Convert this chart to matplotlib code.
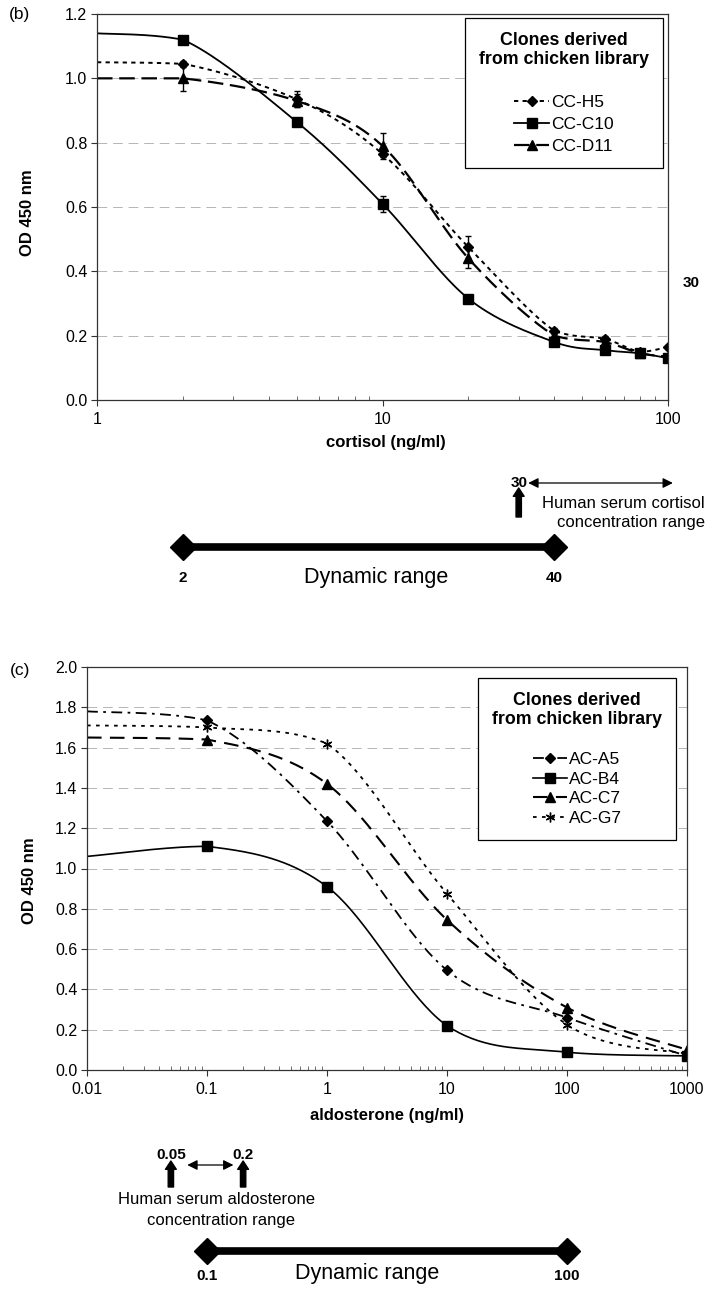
import numpy as np
import matplotlib
matplotlib.use("Agg")
import matplotlib.pyplot as plt
from matplotlib.lines import Line2D
from matplotlib.ticker import FixedLocator, NullFormatter, FormatStrFormatter
from matplotlib.transforms import blended_transform_factory

plt.rcParams['font.family'] = ['Liberation Sans', 'DejaVu Sans']

W, H = 707, 1289

# ---- (b) cortisol ----  first x is the value at the left axis edge (no marker)
cort_x = [1, 2, 5, 10, 20, 40, 60, 80, 100]
cc_h5 = [1.05, 1.045, 0.935, 0.765, 0.475, 0.215, 0.19, 0.15, 0.165]
cc_h5_err = [0, 0.01, 0.025, 0.01, 0.035, 0.01, 0.01, 0.005, 0.005]
cc_c10 = [1.14, 1.12, 0.865, 0.61, 0.315, 0.18, 0.155, 0.145, 0.13]
cc_c10_err = [0, 0.005, 0.01, 0.025, 0.01, 0.01, 0.005, 0.005, 0.01]
cc_d11 = [1.00, 1.00, 0.93, 0.79, 0.44, 0.20, 0.18, 0.145, 0.135]
cc_d11_err = [0, 0.04, 0.02, 0.04, 0.03, 0.01, 0.01, 0.005, 0.005]
cort_serum = 30
cort_serum_hi = 100
cort_dyn = [2, 40]

# ---- (c) aldosterone ----
aldo_x = [0.01, 0.1, 1, 10, 100, 1000]
ac_a5 = [1.78, 1.735, 1.235, 0.495, 0.26, 0.07]
ac_b4 = [1.06, 1.11, 0.91, 0.22, 0.088, 0.07]
ac_c7 = [1.65, 1.64, 1.42, 0.745, 0.31, 0.10]
ac_g7 = [1.71, 1.70, 1.62, 0.875, 0.225, 0.08]
aldo_serum = [0.05, 0.2]
aldo_dyn = [0.1, 100]


def smooth(x, y, n=40):
    """Excel-like smoothed line (bezier through points) in log-x space, no overshoot"""
    lx = np.log10(x)
    y = np.asarray(y, float)
    m = len(lx)
    t = np.linspace(0, 1, n)
    px, py = [], []
    for i in range(m - 1):
        i0 = max(i - 1, 0); i3 = min(i + 2, m - 1)
        lo, hi = min(y[i], y[i + 1]), max(y[i], y[i + 1])
        c1x = lx[i] + (lx[i + 1] - lx[i0]) / 6
        c1y = np.clip(y[i] + (y[i + 1] - y[i0]) / 6, lo, hi)
        c2x = lx[i + 1] - (lx[i3] - lx[i]) / 6
        c2y = np.clip(y[i + 1] - (y[i3] - y[i]) / 6, lo, hi)
        b0 = (1 - t) ** 3; b1 = 3 * (1 - t) ** 2 * t; b2 = 3 * (1 - t) * t ** 2; b3 = t ** 3
        px.append(b0 * lx[i] + b1 * c1x + b2 * c2x + b3 * lx[i + 1])
        py.append(b0 * y[i] + b1 * c1y + b2 * c2y + b3 * y[i + 1])
    return 10 ** np.concatenate(px), np.concatenate(py)


def style_axes(ax, xlim, ylim, xmajor, xlabels, yticks):
    ax.set_xscale('log')
    ax.set_xlim(*xlim)
    ax.set_ylim(*ylim)
    ax.xaxis.set_major_locator(FixedLocator(xmajor))
    ax.set_xticklabels(xlabels)
    minors = [m * d for d in xmajor[:-1] for m in range(2, 10)]
    ax.xaxis.set_minor_locator(FixedLocator(minors))
    ax.xaxis.set_minor_formatter(NullFormatter())
    ax.set_yticks(yticks)
    ax.yaxis.set_major_formatter(FormatStrFormatter('%.1f'))
    ax.tick_params(axis='both', which='major', direction='out', length=4, width=0.8,
                   labelsize=11.5, color='#333333', pad=3)
    ax.tick_params(axis='x', which='minor', direction='in', length=3, width=0.6, color='#555555')
    ax.tick_params(axis='x', which='major', pad=5)
    for s in ax.spines.values():
        s.set_color('#333333'); s.set_linewidth(0.9)
    for yv in yticks[1:-1]:
        ax.axhline(yv, color='#b5b5b5', lw=0.7, ls=(0, (10, 6)), zorder=0)


def make_legend(ax, handles, labels, anchor, spacing):
    leg = ax.legend(handles, labels, title='Clones derived\nfrom chicken library\n',
                    loc='upper right', bbox_to_anchor=anchor, borderaxespad=0,
                    alignment='center', fancybox=False, edgecolor='black', framealpha=1,
                    handlelength=2.0, handletextpad=0.1, labelspacing=spacing, borderpad=0.8,
                    fontsize=12.5, title_fontproperties={'weight': 'bold', 'size': 12.8})
    leg.get_title().set_multialignment('center')
    leg.get_frame().set_linewidth(0.9)
    return leg


fig = plt.figure(figsize=(W / 100, H / 100), dpi=100)
ov = fig.add_axes([0, 0, 1, 1])
ov.set_xlim(0, W); ov.set_ylim(H, 0); ov.axis('off')

def ax_px(l, t, r, b):
    return [l / W, 1 - b / H, (r - l) / W, (b - t) / H]

simple_arrow = dict(arrowstyle='simple,head_length=0.5,head_width=0.65,tail_width=0.32',
                    color='black', mutation_scale=12, shrinkA=0, shrinkB=0)
double_arrow = dict(arrowstyle='<|-|>,head_length=0.6,head_width=0.3', color='black', lw=0.9,
                    mutation_scale=10, shrinkA=0, shrinkB=0)

# ================= (b) =================
ax1 = fig.add_axes(ax_px(97, 14, 668, 400))
style_axes(ax1, (1, 100), (0, 1.2), [1, 10, 100], ['1', '10', '100'], np.arange(0, 1.21, 0.2))

series_b = [
    ('CC-H5', cc_h5, cc_h5_err, dict(ls=(0, (2.2, 2.2)), lw=1.4), dict(marker='D', ms=5.5)),
    ('CC-C10', cc_c10, cc_c10_err, dict(ls='-', lw=1.3), dict(marker='s', ms=6.5)),
    ('CC-D11', cc_d11, cc_d11_err, dict(ls=(0, (7, 3)), lw=1.6), dict(marker='^', ms=6.5)),
]
hb = []
for name, ys, err, lst, mk in series_b:
    sx, sy = smooth(cort_x, ys)
    ax1.plot(sx, sy, color='black', **lst)
    ax1.errorbar(cort_x[1:], ys[1:], yerr=err[1:], fmt='none', ecolor='black',
                 elinewidth=1, capsize=2.5, capthick=1)
    ax1.plot(cort_x[1:], ys[1:], ls='none', color='black', **mk)
    hb.append(Line2D([], [], color='black', **lst, **mk))

make_legend(ax1, hb, [s[0] for s in series_b], (0.991, 0.990), 0.4)

ax1.set_xlabel('cortisol (ng/ml)', fontsize=12, fontweight='bold')
ax1.xaxis.set_label_coords(0.506, -0.09)
ax1.set_ylabel('OD 450 nm', fontsize=12, fontweight='bold')
ax1.yaxis.set_label_coords(-0.108, 0.484)

ov.text(20, 15, '(b)', fontsize=12.5, ha='center', va='center')
ov.text(691, 283, '30', fontsize=11, fontweight='bold', ha='center', va='center')

tb = blended_transform_factory(ax1.transData, ov.transData)
ov.text(cort_serum, 483, '30', transform=tb, fontsize=11, fontweight='bold', ha='center', va='center')
ov.annotate('', xy=(cort_serum, 488), xytext=(cort_serum, 517), xycoords=tb, textcoords=tb,
            arrowprops=simple_arrow)
ov.annotate('', xy=(cort_serum_hi * 1.04, 483), xytext=(cort_serum * 1.08, 483),
            xycoords=tb, textcoords=tb, arrowprops=double_arrow)
ov.text(705, 503, 'Human serum cortisol', fontsize=12, ha='right', va='center')
ov.text(705, 523, 'concentration range', fontsize=12, ha='right', va='center')

ov.plot(cort_dyn, [547, 547], transform=tb, color='black', lw=5.5, solid_capstyle='butt',
        marker='D', ms=13, markevery=[0, 1])
for v in cort_dyn:
    ov.text(v, 578, str(v), transform=tb, fontsize=11, fontweight='bold', ha='center', va='center')
ov.text(376, 577, 'Dynamic range', fontsize=15.5, ha='center', va='center')

# ================= (c) =================
ax2 = fig.add_axes(ax_px(87, 667, 687, 1070))
style_axes(ax2, (0.01, 1000), (0, 2.0), [0.01, 0.1, 1, 10, 100, 1000],
           ['0.01', '0.1', '1', '10', '100', '1000'], np.arange(0, 2.01, 0.2))

series_c = [
    ('AC-A5', ac_a5, dict(ls=(0, (6, 3, 1.5, 3)), lw=1.3), dict(marker='D', ms=5.5)),
    ('AC-B4', ac_b4, dict(ls='-', lw=1.2), dict(marker='s', ms=6.5)),
    ('AC-C7', ac_c7, dict(ls=(0, (7, 4)), lw=1.5), dict(marker='^', ms=6.5)),
    ('AC-G7', ac_g7, dict(ls=(0, (2, 3)), lw=1.3), dict(marker=(6, 2, 0), ms=7, mew=1.0)),
]
hc = []
for name, ys, lst, mk in series_c:
    sx, sy = smooth(aldo_x, ys)
    ax2.plot(sx, sy, color='black', **lst)
    ax2.plot(aldo_x[1:], ys[1:], ls='none', color='black', **mk)
    hc.append(Line2D([], [], color='black', **lst, **mk))

make_legend(ax2, hc, [s[0] for s in series_c], (0.982, 0.973), 0.25)

ax2.set_xlabel('aldosterone (ng/ml)', fontsize=12, fontweight='bold')
ax2.xaxis.set_label_coords(0.50, -0.095)
ax2.set_ylabel('OD 450 nm', fontsize=12, fontweight='bold')
ax2.yaxis.set_label_coords(-0.083, 0.47)

ov.text(20, 670, '(c)', fontsize=12.5, ha='center', va='center')

tc = blended_transform_factory(ax2.transData, ov.transData)
for v in aldo_serum:
    ov.text(v, 1155, str(v), transform=tc, fontsize=11, fontweight='bold', ha='center', va='center')
    ov.annotate('', xy=(v, 1161), xytext=(v, 1187), xycoords=tc, textcoords=tc,
                arrowprops=simple_arrow)
ov.annotate('', xy=(aldo_serum[1] * 0.83, 1165), xytext=(aldo_serum[0] * 1.37, 1165),
            xycoords=tc, textcoords=tc, arrowprops=double_arrow)
ov.text(217, 1200, 'Human serum aldosterone', fontsize=12, ha='center', va='center')
ov.text(221, 1220, 'concentration range', fontsize=12, ha='center', va='center')

ov.plot(aldo_dyn, [1251, 1251], transform=tc, color='black', lw=5.5, solid_capstyle='butt',
        marker='D', ms=13, markevery=[0, 1])
for v in aldo_dyn:
    ov.text(v, 1276, str(v), transform=tc, fontsize=11, fontweight='bold', ha='center', va='center')
ov.text(367, 1273, 'Dynamic range', fontsize=15.5, ha='center', va='center')

fig.savefig('out.png', dpi=100)
